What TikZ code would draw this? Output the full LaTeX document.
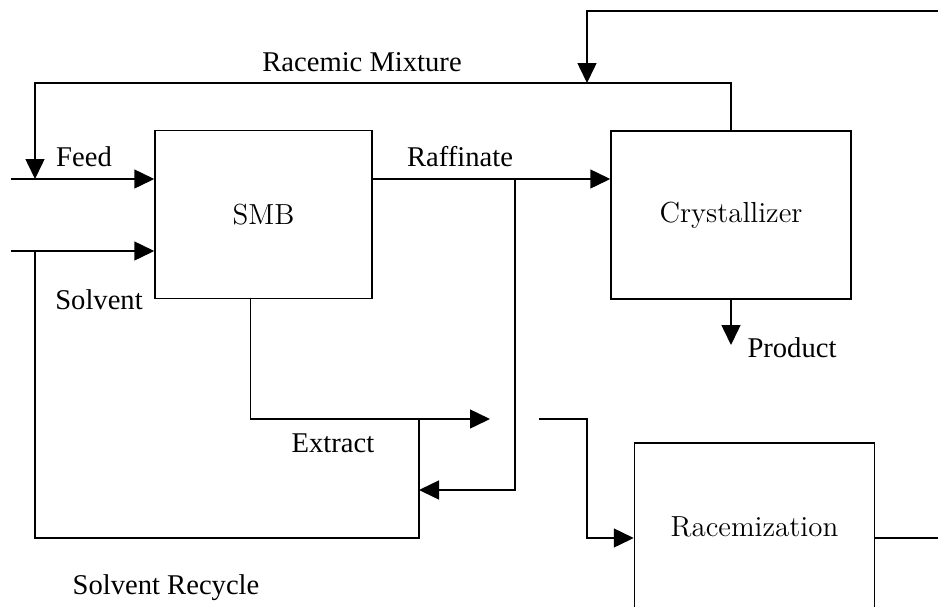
\documentclass[tikz,border=0pt]{standalone}
\usepackage{fontspec}
\newfontfamily\labelfont{Liberation Serif}
\usetikzlibrary{arrows.meta}

\begin{document}
\begin{tikzpicture}[x = .5pt, y = -.5pt, line width = .75pt,
    unit/.style = {draw, minimum width = 120pt, minimum height = 84pt,
                   font = \fontsize{14.5}{17}\selectfont},
    lbl/.style = {font = \labelfont\fontsize{14.3}{17}\selectfont},
    flow/.style = {-{Triangle[length = 10pt, width = 9.5pt]}}]
        \clip (0,0) rectangle (938,606);

        \node[unit, minimum width = 108.5pt] (smb) at (263.5,214.5) {SMB};
        \node[unit] (cryst) at (731,215) {Crystallizer};
        \node[unit] (racem) at (754.5,527) {Racemization};

        \coordinate (feed) at (11,179);
        \coordinate (solv) at (11,251);
        \coordinate (sjoin) at (35,251);
        \coordinate (split) at (515,179);
        \coordinate (ret) at (419,490);
        \coordinate (ext) at (490,419);
        \coordinate (rcytop) at (419,419);
        \coordinate (rcybot) at (419,538);
        \coordinate (rcyleft) at (35,538);
        \coordinate (torac) at (539,419);
        \coordinate (bend) at (587,538);
        \coordinate (racout) at (938,538);
        \coordinate (mixleft) at (35,83);
        \coordinate (mixin) at (587,83);
        \coordinate (topright) at (938,11);
        \coordinate (prod) at (731,345);

        \draw[flow] (feed) -- (feed -| smb.west);
        \draw[flow] (solv) -- (solv -| smb.west);
        \draw[flow] (feed -| smb.east) -- (feed -| cryst.west);
        \draw[flow] (split) |- (ret);
        \draw[flow] ([xshift = 48pt]smb.south west) |- (ext);
        \draw (rcytop) -- (rcybot) -- (rcyleft) -- (sjoin);
        \draw[flow] (torac) -| (bend) -- (bend -| racem.west);
        \draw (bend -| racem.east) -- (racout);
        \draw[flow] (cryst.north) |- (mixleft) -- (feed -| mixleft);
        \draw[flow] (topright) -| (mixin);
        \draw[flow] (cryst.south) -- (prod);

        \node[lbl] (mixlabel) at (362,62) {Racemic Mixture};
        \node[lbl] (feedlabel) at (84,157) {Feed};
        \node[lbl] (raflabel) at (460,157) {Raffinate};
        \node[lbl] (solvlabel) at (99,300) {Solvent};
        \node[lbl] (prodlabel) at (792,348) {Product};
        \node[lbl] (extlabel) at (333,443) {Extract};
        \node[lbl] (rcylabel) at (166,588) {Solvent Recycle};
      \end{tikzpicture}
\end{document}
